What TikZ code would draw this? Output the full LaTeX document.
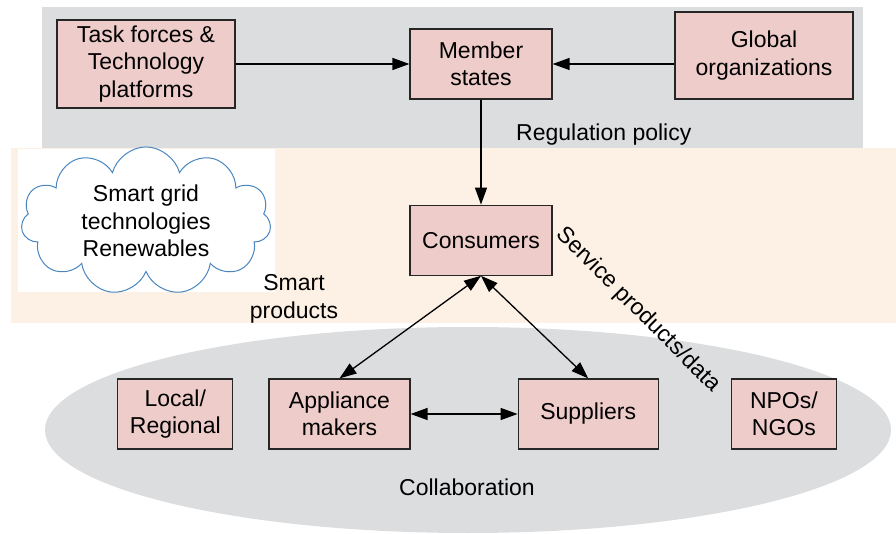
\documentclass[tikz,border=0pt]{standalone}
\usepackage{fontspec}
\setmainfont{Liberation Sans}
\usetikzlibrary{arrows.meta,positioning,shapes.symbols}
\definecolor{bandgray}{HTML}{DCDDDF}
\definecolor{bandpeach}{HTML}{FDF0E5}
\definecolor{boxpink}{HTML}{EDCCC9}
\definecolor{cloudblue}{HTML}{4A86C0}
\tikzset{
  mybox/.style = {rectangle, draw=black!85, line width=1.2pt, fill=boxpink, minimum height=70pt, align=center, inner sep=2pt},
  myarrow/.style = {-{Triangle[length=17pt, width=12pt]}, line width=1.3pt},
  mytwoway/.style = {{Triangle[length=17pt, width=12pt]}-{Triangle[length=17pt, width=12pt]}, line width=1.3pt},
  mylabel/.style = {align=center, inner sep=0pt},
}

\begin{document}
\begin{tikzpicture}[x=1pt, y=-1pt, node distance=10pt, every node/.style={font=\fontsize{23}{27.5}\selectfont}]
\useasboundingbox (0,0) rectangle (896,534);
% background regions
\fill[bandgray] (42,7) rectangle (863,148);
\fill[bandpeach] (11,148) rectangle (896,323);
\fill[white] (18,149) rectangle (275,292);
\fill[bandgray] (468,430) ellipse [x radius=423pt, y radius=103pt];
% cloud
\node[cloud, cloud puffs=11, cloud ignores aspect, draw=cloudblue, line width=1pt, fill=white, minimum width=250pt, minimum height=134pt, align=center] (tech) at (146,221) {Smart grid\\technologies\\Renewables};
% upper row
\node[mybox, minimum width=142pt] (member) at (481,64) {Member\\states};
\node[mybox, minimum width=178pt, minimum height=88pt] (task) at (146,64) {Task forces \&\\Technology\\platforms};
\node[mybox, minimum width=178pt, minimum height=87pt] (global) at (764,55.5) {Global\\organizations};
\node[mybox, minimum width=142pt, below=105pt of member] (cons) {Consumers};
% lower row
\node[mybox, minimum width=141pt] (maker) at (339.5,414) {Appliance\\makers};
\node[mybox, minimum width=115pt, left=35pt of maker] (local) {Local/\\Regional};
\node[mybox, minimum width=140pt, right=107pt of maker] (supp) {Suppliers};
\node[mybox, minimum width=105pt, right=72pt of supp] (npo) {NPOs/\\NGOs};
% labels
\node[mylabel, anchor=west] (reg) at (516,135) {Regulation policy};
\node[mylabel] (smart) at (294,299) {Smart\\products};
\node[mylabel, rotate=-45] (service) at (638,310) {Service products/data};
\node[mylabel] (collab) at (467,487) {Collaboration};
% connectors
\draw[myarrow] (task.east) -- (member.west);
\draw[myarrow] (global.west |- member) -- (member.east);
\draw[myarrow] (member) -- (cons);
\draw[mytwoway] (maker.north) -- (cons.south);
\draw[mytwoway] (supp.north) -- (cons.south);
\draw[mytwoway] (maker) -- (supp);
\end{tikzpicture}
\end{document}
